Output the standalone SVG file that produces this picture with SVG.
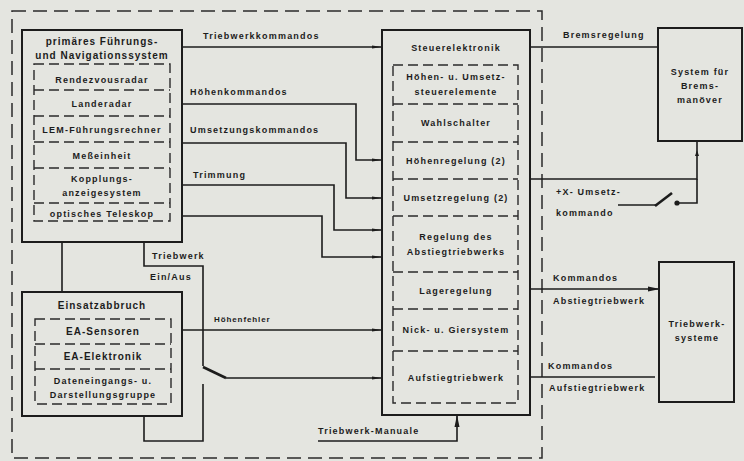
<svg xmlns="http://www.w3.org/2000/svg" width="744" height="461" viewBox="0 0 744 461">
<style>
  .bg{fill:#e4e5e0}
  .box{fill:none;stroke:#1c1c1c;stroke-width:2}
  .dash{fill:none;stroke:#2a2a2a;stroke-width:1.4;stroke-dasharray:10 5}
  .outer{fill:none;stroke:#2a2a2a;stroke-width:1.5;stroke-dasharray:14 7}
  .ln{fill:none;stroke:#1c1c1c;stroke-width:1.6}
  text{font-family:"Liberation Sans","DejaVu Sans",sans-serif;font-weight:bold;font-size:9px;letter-spacing:1.2px;fill:#1c1c1c}
  .c{text-anchor:middle}
  .t{font-size:10px;letter-spacing:1px}
</style>
<defs>
  <marker id="ah" markerWidth="12" markerHeight="6" refX="11" refY="3" orient="auto" markerUnits="userSpaceOnUse">
    <path d="M0,0.5 L12,3 L0,5.5 z" fill="#1c1c1c"/>
  </marker>
  <marker id="sm" markerWidth="10" markerHeight="4" refX="10" refY="2" orient="auto" markerUnits="userSpaceOnUse">
    <path d="M0,0.6 L10,2 L0,3.4 z" fill="#1c1c1c"/>
  </marker>
</defs>
<rect class="bg" x="0" y="0" width="744" height="461"/>
<rect class="outer" x="12" y="11" width="530" height="447"/>

<g id="connectors">
  <path class="ln" d="M182,47 H382" marker-end="url(#sm)"/>
  <path class="ln" d="M182,104 H356 V160 H382" marker-end="url(#sm)"/>
  <path class="ln" d="M182,143 H346 V198 H382" marker-end="url(#sm)"/>
  <path class="ln" d="M182,185 H334 V230 H382" marker-end="url(#sm)"/>
  <path class="ln" d="M182,216 H322 V257 H382" marker-end="url(#sm)"/>
  <path class="ln" d="M182,330 H382" marker-end="url(#sm)"/>
  <path class="ln" d="M62,242 V292"/>
  <path class="ln" d="M144,242 V266 H203 V366"/>
  <path class="ln" d="M203,367 L226,378" style="stroke-width:2.6"/>
  <path class="ln" d="M226,378 H382" marker-end="url(#sm)"/>
  <path class="ln" d="M203,384 V441 H144 V416"/>
  <path class="ln" d="M530,47 H658"/>
  <path class="ln" d="M530,179 H697 V141"/>
  <path d="M695,156 L697,150 L699,156 z" fill="#1c1c1c"/>
  <path class="ln" d="M697,179 V203 H678"/>
  <circle cx="677" cy="203" r="2.6" fill="#1c1c1c"/>
  <path class="ln" d="M618,205 H656"/>
  <path class="ln" d="M655,206 L672,193" style="stroke-width:2.6"/>
  <path class="ln" d="M530,289 H659" marker-end="url(#ah)"/>
  <path class="ln" d="M530,377 H655"/>
  <path class="ln" d="M318,441 H457 V416" marker-end="url(#ah)"/>
  <text x="203" y="39">Triebwerkkommandos</text>
  <text x="190" y="95">Höhenkommandos</text>
  <text x="190" y="133">Umsetzungskommandos</text>
  <text x="193" y="178">Trimmung</text>
  <text x="152" y="259">Triebwerk</text>
  <text x="150" y="280">Ein/Aus</text>
  <text x="214" y="322" style="font-size:8px;letter-spacing:0.9px">Höhenfehler</text>
  <text x="318" y="434">Triebwerk-Manuale</text>
  <text x="563" y="38">Bremsregelung</text>
  <text x="556" y="195">+X- Umsetz-</text>
  <text x="556" y="216">kommando</text>
  <text x="553" y="281">Kommandos</text>
  <text x="553" y="304">Abstiegtriebwerk</text>
  <text x="548" y="369">Kommandos</text>
  <text x="549" y="391">Aufstiegtriebwerk</text>
</g>

<g id="pgns">
  <rect class="box" x="22" y="30" width="160" height="212"/>
  <text class="c t" x="102" y="45">primäres Führungs-</text>
  <text class="c t" x="102" y="59">und Navigationssystem</text>
  <rect class="dash" x="34" y="64" width="136" height="157"/>
  <path class="dash" d="M34,90 H170 M34,116 H170 M34,142 H170 M34,168 H170 M34,203 H170"/>
  <text class="c" x="102" y="83">Rendezvousradar</text>
  <text class="c" x="102" y="107">Landeradar</text>
  <text class="c" x="102" y="133">LEM-Führungsrechner</text>
  <text class="c" x="102" y="159">Meßeinheit</text>
  <text class="c" x="102" y="182">Kopplungs-</text>
  <text class="c" x="102" y="196">anzeigesystem</text>
  <text class="c" x="102" y="217">optisches Teleskop</text>
</g>

<g id="einsatzabbruch">
  <rect class="box" x="22" y="292" width="160" height="124"/>
  <text class="c t" x="102" y="309">Einsatzabbruch</text>
  <rect class="dash" x="35" y="319" width="136" height="85"/>
  <path class="dash" d="M35,344 H171 M35,369 H171"/>
  <text class="c t" x="103" y="335">EA-Sensoren</text>
  <text class="c t" x="103" y="360">EA-Elektronik</text>
  <text class="c" x="103" y="384">Dateneingangs- u.</text>
  <text class="c" x="103" y="398">Darstellungsgruppe</text>
</g>

<g id="steuerelektronik">
  <rect class="box" x="382" y="30" width="148" height="385"/>
  <text class="c" x="456" y="51">Steuerelektronik</text>
  <rect class="dash" x="393" y="65" width="125" height="338"/>
  <path class="dash" d="M393,104 H518 M393,142 H518 M393,179 H518 M393,216 H518 M393,272 H518 M393,309 H518 M393,351 H518"/>
  <text class="c" x="456" y="80">Höhen- u. Umsetz-</text>
  <text class="c" x="456" y="95">steuerelemente</text>
  <text class="c" x="456" y="126">Wahlschalter</text>
  <text class="c" x="456" y="164">Höhenregelung (2)</text>
  <text class="c" x="456" y="201">Umsetzregelung (2)</text>
  <text class="c" x="456" y="240">Regelung des</text>
  <text class="c" x="456" y="255">Abstiegtriebwerks</text>
  <text class="c" x="456" y="294">Lageregelung</text>
  <text class="c" x="456" y="333">Nick- u. Giersystem</text>
  <text class="c" x="456" y="381">Aufstiegtriebwerk</text>
</g>

<g id="bremsmanoever">
  <rect class="box" x="658" y="28" width="84" height="113"/>
  <text class="c" x="700" y="75">System für</text>
  <text class="c" x="700" y="89">Brems-</text>
  <text class="c" x="700" y="103">manöver</text>
</g>

<g id="triebwerksysteme">
  <rect class="box" x="659" y="262" width="75" height="140"/>
  <text class="c" x="697" y="327">Triebwerk-</text>
  <text class="c" x="697" y="341">systeme</text>
</g>
</svg>
